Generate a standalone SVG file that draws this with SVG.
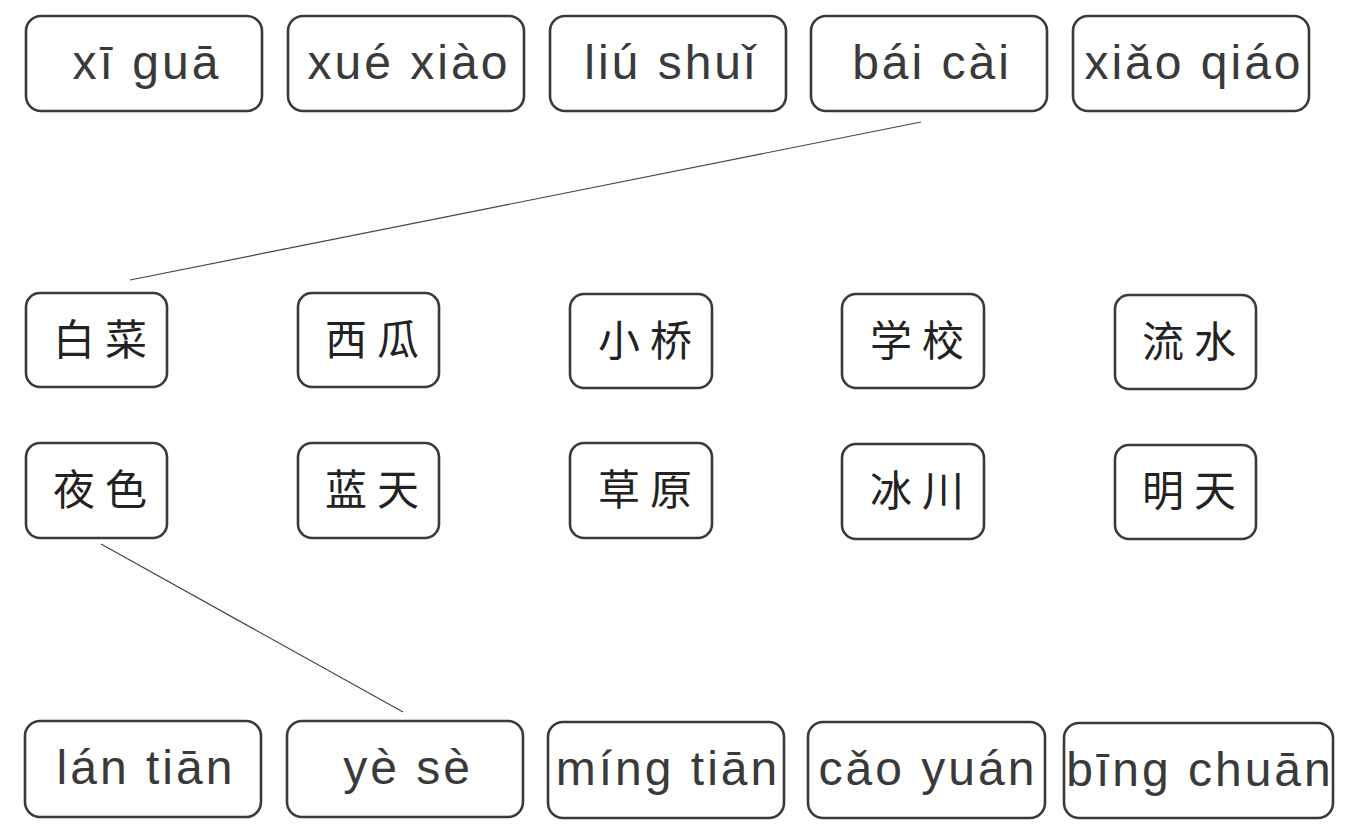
<svg xmlns="http://www.w3.org/2000/svg" width="1352" height="839" viewBox="0 0 1352 839">
<style>
.box{fill:#fff;stroke:#3a3a3a;stroke-width:2.6}
.py{font-family:"Liberation Sans","DejaVu Sans",sans-serif;font-size:48px;fill:#3a3a3a;letter-spacing:3px;text-anchor:middle}
.hz{font-family:"Noto Sans CJK SC",sans-serif;font-size:42px;fill:#222;letter-spacing:10px;text-anchor:middle}
.ln{stroke:#444;stroke-width:1.2;fill:none}
</style>
<rect width="1352" height="839" fill="#fff"/>
<g id="connectors">
<line class="ln" x1="921" y1="122" x2="130" y2="280"/>
<line class="ln" x1="101" y1="544" x2="403" y2="712"/>
</g>
<g id="p1"><rect class="box" x="26" y="16" width="236" height="95" rx="15"/><text class="py" x="147" y="79">xī guā</text></g>
<g id="p2"><rect class="box" x="288" y="16" width="236" height="95" rx="15"/><text class="py" x="409" y="79">xué xiào</text></g>
<g id="p3"><rect class="box" x="550" y="16" width="236" height="95" rx="15"/><text class="py" x="671" y="79">liú shuǐ</text></g>
<g id="p4"><rect class="box" x="811" y="16" width="236" height="95" rx="15"/><text class="py" x="932" y="79">bái cài</text></g>
<g id="p5"><rect class="box" x="1073" y="16" width="236" height="95" rx="15"/><text class="py" x="1194" y="79">xiǎo qiáo</text></g>

<g id="h1"><rect class="box" x="26" y="293" width="141" height="94" rx="14"/><text class="hz" x="105" y="355">白菜</text></g>
<g id="h2"><rect class="box" x="298" y="293" width="141" height="94" rx="14"/><text class="hz" x="377" y="355">西瓜</text></g>
<g id="h3"><rect class="box" x="570" y="294" width="142" height="94" rx="14"/><text class="hz" x="650" y="356">小桥</text></g>
<g id="h4"><rect class="box" x="842" y="294" width="142" height="94" rx="14"/><text class="hz" x="922" y="356">学校</text></g>
<g id="h5"><rect class="box" x="1115" y="295" width="141" height="94" rx="14"/><text class="hz" x="1194" y="357">流水</text></g>

<g id="h6"><rect class="box" x="26" y="443" width="141" height="95" rx="14"/><text class="hz" x="105" y="505">夜色</text></g>
<g id="h7"><rect class="box" x="298" y="443" width="141" height="95" rx="14"/><text class="hz" x="377" y="505">蓝天</text></g>
<g id="h8"><rect class="box" x="570" y="443" width="142" height="95" rx="14"/><text class="hz" x="650" y="505">草原</text></g>
<g id="h9"><rect class="box" x="842" y="444" width="142" height="95" rx="14"/><text class="hz" x="922" y="506">冰川</text></g>
<g id="h10"><rect class="box" x="1115" y="445" width="141" height="94" rx="14"/><text class="hz" x="1194" y="506">明天</text></g>

<g id="b1"><rect class="box" x="25" y="721" width="236" height="96" rx="15"/><text class="py" x="146" y="784">lán tiān</text></g>
<g id="b2"><rect class="box" x="287" y="721" width="236" height="96" rx="15"/><text class="py" x="408" y="784">yè sè</text></g>
<g id="b3"><rect class="box" x="548" y="722" width="236" height="96" rx="15"/><text class="py" x="668" y="785">míng tiān</text></g>
<g id="b4"><rect class="box" x="808" y="722" width="237" height="96" rx="15"/><text class="py" x="928" y="785">cǎo yuán</text></g>
<g id="b5"><rect class="box" x="1064" y="723" width="269" height="95" rx="15"/><text class="py" x="1200" y="786">bīng chuān</text></g>
</svg>
